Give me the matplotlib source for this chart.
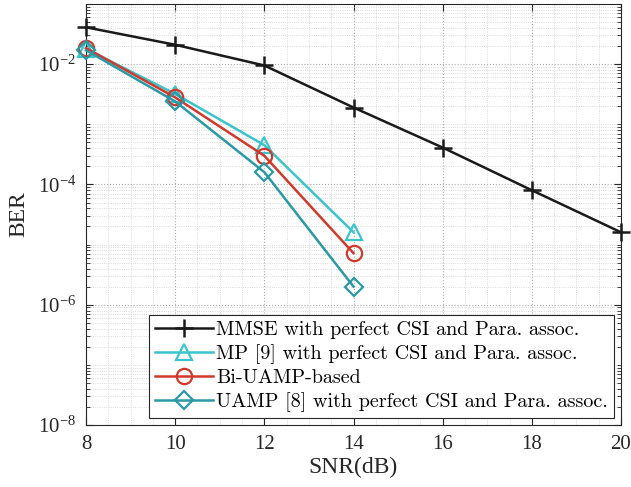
import matplotlib
matplotlib.use("Agg")
import matplotlib.pyplot as plt
import numpy as np

snr_mmse = [8, 10, 12, 14, 16, 18, 20]
ber_mmse = [4.1e-2, 2.1e-2, 9.5e-3, 1.9e-3, 4.1e-4, 8.0e-5, 1.6e-5]
snr_short = [8, 10, 12, 14]
ber_mp = [1.8e-2, 3.2e-3, 4.5e-4, 1.6e-5]
ber_bi = [1.85e-2, 2.8e-3, 3.0e-4, 7.2e-6]
ber_uamp = [1.7e-2, 2.4e-3, 1.6e-4, 2.0e-6]

labels = ["MMSE with perfect CSI and Para. assoc.",
          "MP [9] with perfect CSI and Para. assoc.",
          "Bi-UAMP-based",
          "UAMP [8] with perfect CSI and Para. assoc."]

plt.rcParams['font.family'] = ['Liberation Serif', 'DejaVu Serif']
plt.rcParams['mathtext.fontset'] = 'stix'

fig = plt.figure(figsize=(6.31, 4.87), dpi=100)
ax = fig.add_axes([86/631, 1 - 425/487, (621-86)/631, (425-4)/487])

common = dict(linewidth=1.8, clip_on=False, zorder=3)
ax.semilogy(snr_mmse, ber_mmse, color='#1a1a1a', marker='+', markersize=13,
            markeredgewidth=1.8, label=labels[0], **common)
ax.semilogy(snr_short, ber_mp, color='#3bc4cc', marker='^', markersize=11,
            markerfacecolor='none', markeredgewidth=1.6, label=labels[1], **common)
ax.semilogy(snr_short, ber_bi, color='#d0392b', marker='o', markersize=11,
            markerfacecolor='none', markeredgewidth=1.6, label=labels[2], **common)
ax.semilogy(snr_short, ber_uamp, color='#2a99a6', marker='D', markersize=9,
            markerfacecolor='none', markeredgewidth=1.6, label=labels[3], **common)

ax.set_xlim(8, 20)
ax.set_ylim(1e-8, 1e-1)
ax.set_xticks([8, 10, 12, 14, 16, 18, 20])
ax.set_yticks([1e-8, 1e-6, 1e-4, 1e-2])
ax.yaxis.set_minor_locator(matplotlib.ticker.LogLocator(base=10, subs=np.arange(1, 10), numticks=20))
ax.yaxis.set_minor_formatter(matplotlib.ticker.NullFormatter())
ax.xaxis.set_minor_locator(matplotlib.ticker.MultipleLocator(0.5))

ax.grid(True, which='major', linestyle=':', color='#b0b0b0', linewidth=0.8)
ax.grid(True, which='minor', linestyle=':', color='#d0d0d0', linewidth=0.6)
ax.tick_params(which='both', direction='in', top=True, right=True, labelsize=15, colors='#262626')
ax.tick_params(which='minor', length=3)
ax.tick_params(which='major', length=5)
ax.tick_params(axis='y', which='major', pad=7)
ax.tick_params(axis='x', which='major', pad=7)
ax.xaxis.set_tick_params(which='minor', length=0)
for s in ax.spines.values():
    s.set_color('#262626')
    s.set_linewidth(0.8)

ax.set_xlabel('SNR(dB)', fontsize=17, color='#262626', labelpad=2)
ax.set_ylabel('BER', fontsize=17, color='#262626', labelpad=6)

leg = ax.legend(loc='lower right', frameon=True, fancybox=False,
                prop={'family': 'cmr10', 'size': 14.5},
                edgecolor='#262626', framealpha=1, borderaxespad=0.35,
                handlelength=2.9, handletextpad=0.15, labelspacing=0.25, borderpad=0.3)
leg.get_frame().set_linewidth(0.8)
leg.set_zorder(5)

fig.savefig('out.png', dpi=100)
